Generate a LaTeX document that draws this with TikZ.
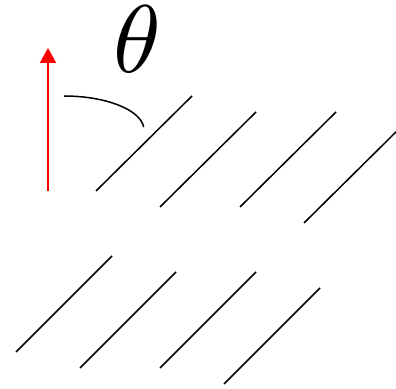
\documentclass[tikz,border=0pt]{standalone}
\usetikzlibrary{arrows.meta}
\begin{document}
\begin{tikzpicture}[x=1pt,y=1pt,
  hatch/.style={draw=black,line width=1.5pt},
  upvec/.style={draw=red,line width=2pt,-{Triangle[length=15pt,width=16pt]}},
  anglearc/.style={draw=black,line width=1.5pt}]
\useasboundingbox (0,0) rectangle (396,388);
% top row
\coordinate (a1) at (96,197);  \coordinate (b1) at (192,292);
\coordinate (a2) at (160,181); \coordinate (b2) at (256,276);
\coordinate (a3) at (240,181); \coordinate (b3) at (336,276);
\coordinate (a4) at (304,165); \coordinate (b4) at (400,260);
% bottom row
\coordinate (c1) at (16,36);   \coordinate (d1) at (112,132);
\coordinate (c2) at (80,20);   \coordinate (d2) at (176,116);
\coordinate (c3) at (160,20);  \coordinate (d3) at (256,116);
\coordinate (c4) at (224,4);   \coordinate (d4) at (320,100);
\begin{scope}
\clip (0,0) rectangle (396,388);
\foreach \i in {1,2,3,4}{
  \draw[hatch] (a\i) -- (b\i);
  \draw[hatch] (c\i) -- (d\i);
}
\end{scope}
% red arrow
\coordinate (r0) at (48,197);
\coordinate (r1) at (48,340);
\draw[upvec] (r0) -- (r1);
% angle arc
\coordinate (arcstart) at (64,292);
\draw[anglearc] (arcstart) arc[start angle=90,end angle=5,x radius=80,y radius=34];
% theta
\node[inner sep=0pt,anchor=base,scale=9.6] (theta) at (137,315) {$\theta$};
\end{tikzpicture}
\end{document}
